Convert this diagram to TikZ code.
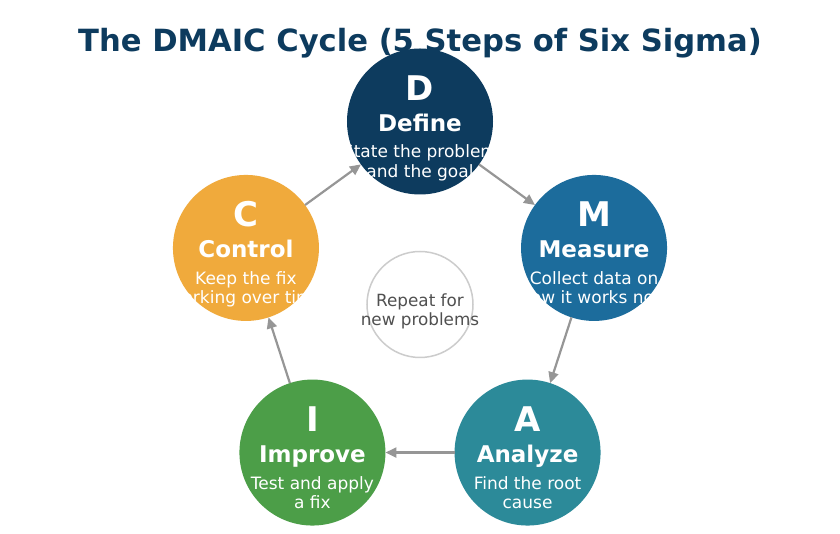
\documentclass[tikz,border=0pt]{standalone}
\usepackage{fontspec}
\setmainfont{DejaVu Sans}
\usetikzlibrary{arrows.meta}

\definecolor{definecol}{RGB}{13,59,94}
\definecolor{measurecol}{RGB}{28,108,156}
\definecolor{analyzecol}{RGB}{44,138,153}
\definecolor{improvecol}{RGB}{76,158,72}
\definecolor{controlcol}{RGB}{240,170,60}
\definecolor{flowgray}{RGB}{150,150,150}
\definecolor{ringgray}{RGB}{204,204,204}
\definecolor{notegray}{RGB}{80,80,80}

\begin{document}
\begin{tikzpicture}[x=1pt,y=1pt,
    stage/.style={circle,minimum size=146pt,inner sep=0pt,outer sep=0pt},
    letter/.style={anchor=base,text=white,font=\fontsize{34}{40}\selectfont\bfseries},
    stagename/.style={anchor=base,text=white,font=\fontsize{23}{27}\selectfont\bfseries},
    desc/.style={anchor=base,text=white,align=center,inner sep=0pt,font=\fontsize{17}{19.5}\selectfont},
    flow/.style={draw=flowgray,line width=2.2pt,-{Triangle[length=11pt,width=10pt]}}]
  \fill[white] (-420,-229.5) rectangle (420,304.5);
  \useasboundingbox (-420,-229.5) rectangle (420,304.5);

  \node[anchor=base,text=definecol,font=\fontsize{30.6}{36}\selectfont\bfseries] (title) at (0,252.5) {The DMAIC Cycle (5 Steps of Six Sigma)};

  % the five stages
  \node[stage,fill=definecol] (d) at (90:183) {};
  \node[letter] (dl) at ([yshift=21]d.center) {D};
  \node[stagename] (dn) at ([yshift=-10]d.center) {Define};
  \node[desc] (dt) at ([yshift=-56]d.center) {State the problem\\and the goal};

  \node[stage,fill=measurecol] (m) at (18:183) {};
  \node[letter] (ml) at ([yshift=21]m.center) {M};
  \node[stagename] (mn) at ([yshift=-10]m.center) {Measure};
  \node[desc] (mt) at ([yshift=-56]m.center) {Collect data on\\how it works now};

  \node[stage,fill=analyzecol] (a) at (-54:183) {};
  \node[letter] (al) at ([yshift=21]a.center) {A};
  \node[stagename] (an) at ([yshift=-10]a.center) {Analyze};
  \node[desc] (at) at ([yshift=-56]a.center) {Find the root\\cause};

  \node[stage,fill=improvecol] (i) at (-126:183) {};
  \node[letter] (il) at ([yshift=21]i.center) {I};
  \node[stagename] (in) at ([yshift=-10]i.center) {Improve};
  \node[desc] (it) at ([yshift=-56]i.center) {Test and apply\\a fix};

  \node[stage,fill=controlcol] (c) at (162:183) {};
  \node[letter] (cl) at ([yshift=21]c.center) {C};
  \node[stagename] (cn) at ([yshift=-10]c.center) {Control};
  \node[desc] (ct) at ([yshift=-56]c.center) {Keep the fix\\working over time};

  % middle note
  \node[circle,draw=ringgray,line width=1.5pt,minimum size=106pt,inner sep=0pt] (loop) at (0,0) {};
  \node[anchor=base,align=center,text=notegray,font=\fontsize{16.8}{19}\selectfont] (note) at (0,-21.5) {Repeat for\\new problems};

  \draw[flow] (d) -- (m);
  \draw[flow] (m) -- (a);
  \draw[flow] (a) -- (i);
  \draw[flow] (i) -- (c);
  \draw[flow] (c) -- (d);
\end{tikzpicture}
\end{document}
